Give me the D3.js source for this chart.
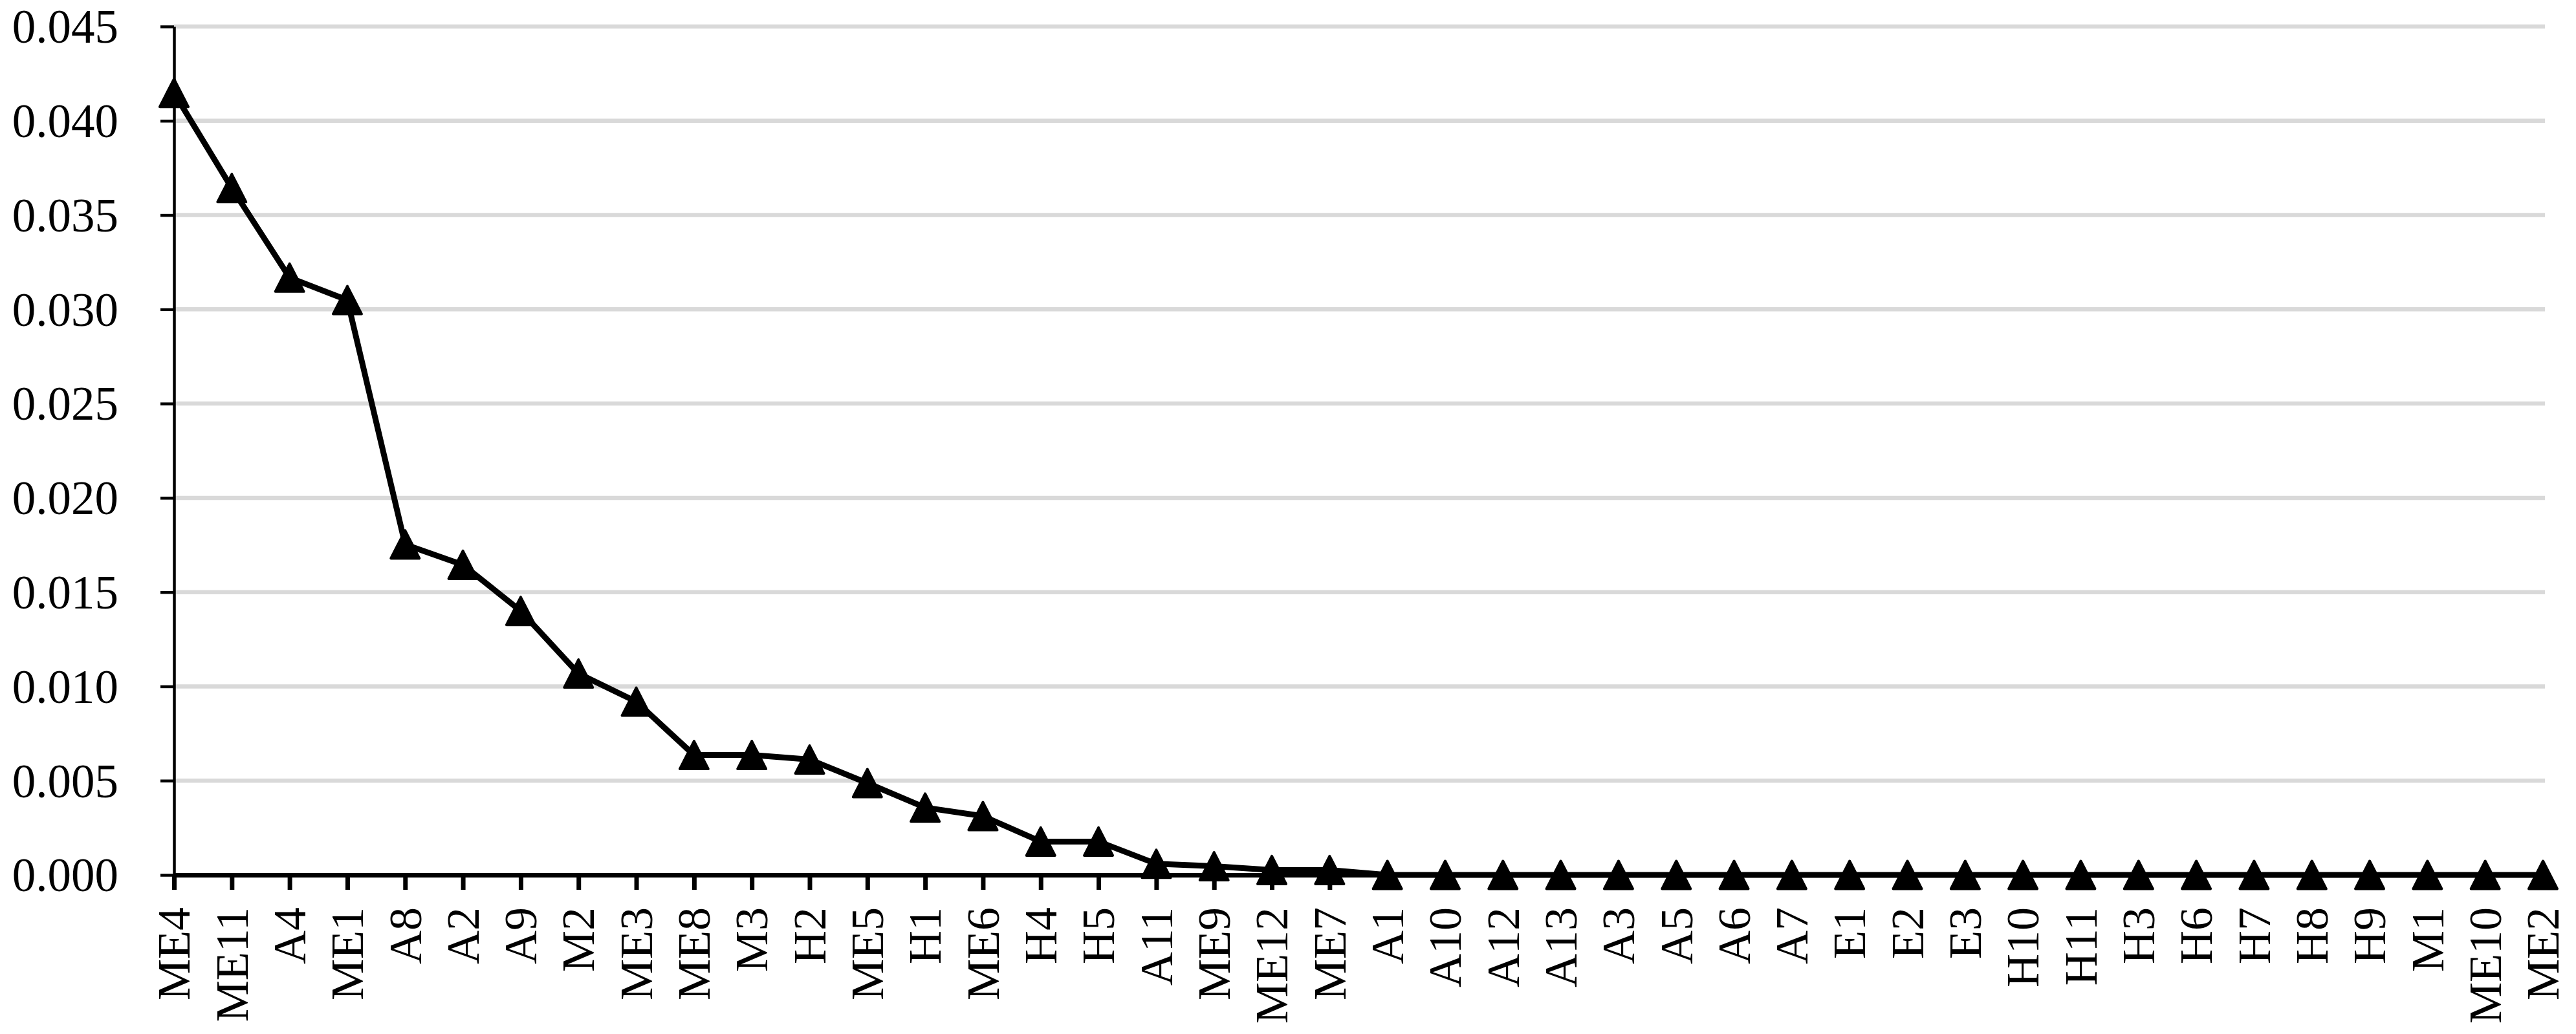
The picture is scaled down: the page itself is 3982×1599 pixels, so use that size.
<!DOCTYPE html>
<html>
<head>
<meta charset="utf-8">
<script src="https://cdn.jsdelivr.net/npm/d3@7"></script>
<style>
  html, body { margin: 0; padding: 0; background: #fff; }
  svg { display: block; }
  text { font-family: "Liberation Serif", "Times New Roman", serif; fill: #000; }
</style>
</head>
<body>
<svg id="chart" width="3982" height="1599"></svg>
<script>
const categories = ["ME4","ME11","A4","ME1","A8","A2","A9","M2","ME3","ME8","M3","H2","ME5","H1","ME6","H4","H5","A11","ME9","ME12","ME7","A1","A10","A12","A13","A3","A5","A6","A7","E1","E2","E3","H10","H11","H3","H6","H7","H8","H9","M1","ME10","ME2"];
const values = [0.04148,0.03643,0.03168,0.03049,0.01753,0.01645,0.01400,0.01068,0.00919,0.00636,0.00636,0.00612,0.00487,0.00357,0.00312,0.00177,0.00177,0.00059,0.00046,0.00026,0.00026,0,0,0,0,0,0,0,0,0,0,0,0,0,0,0,0,0,0,0,0,0];
const yTicks = [0,0.005,0.010,0.015,0.020,0.025,0.030,0.035,0.040,0.045];

const svg = d3.select("#chart");
const x0 = 269, x1 = 3931, yBottom = 1353, yTop = 41;

const x = d3.scalePoint().domain(categories).range([x0, x1]);
const y = d3.scaleLinear().domain([0, 0.045]).range([yBottom, yTop]);

// gridlines
svg.append("g").selectAll("line").data(yTicks.filter(d => d > 0)).join("line")
  .attr("x1", x0).attr("x2", x1 + 3)
  .attr("y1", d => y(d)).attr("y2", d => y(d))
  .attr("stroke", "#d9d9d9").attr("stroke-width", 6.5);

// y axis
const yAxis = svg.append("g").attr("transform", `translate(${x0},0)`)
  .call(d3.axisLeft(y).tickValues(yTicks).tickFormat(d3.format(".3f")).tickSize(21).tickSizeOuter(0).tickPadding(65));
yAxis.select(".domain").attr("stroke", "#000").attr("stroke-width", 4.5);
yAxis.selectAll(".tick line").attr("stroke", "#000").attr("stroke-width", 4.5);
yAxis.selectAll(".tick text").attr("font-size", 73).attr("dy", "0.34em")
  .attr("font-family", "Liberation Serif, Times New Roman, serif");

// x axis
const xAxis = svg.append("g").attr("transform", `translate(0,${yBottom})`)
  .call(d3.axisBottom(x).tickSize(23).tickSizeOuter(0));
xAxis.select(".domain").attr("stroke", "#000").attr("stroke-width", 7);
xAxis.selectAll(".tick line").attr("stroke", "#000").attr("stroke-width", 7);
xAxis.selectAll(".tick text")
  .attr("font-size", 72)
  .attr("font-family", "Liberation Serif, Times New Roman, serif")
  .attr("text-anchor", "end")
  .attr("transform", "rotate(-90)")
  .attr("x", -50).attr("y", 0).attr("dy", "0.33em");

// data line
const pts = categories.map((c, i) => [x(c), y(values[i])]);
svg.append("path")
  .attr("d", d3.line()(pts))
  .attr("fill", "none").attr("stroke", "#000").attr("stroke-width", 9)
  .attr("stroke-linejoin", "round");

// triangle markers
const w = 44, h = 43;
const tri = `M0,${-h/2}L${w/2},${h/2}L${-w/2},${h/2}Z`;
svg.append("g").selectAll("path").data(pts).join("path")
  .attr("transform", d => `translate(${d[0]},${d[1]})`)
  .attr("d", tri)
  .attr("fill", "#000").attr("stroke", "#000").attr("stroke-width", 4)
  .attr("stroke-linejoin", "round");
</script>
</body>
</html>
